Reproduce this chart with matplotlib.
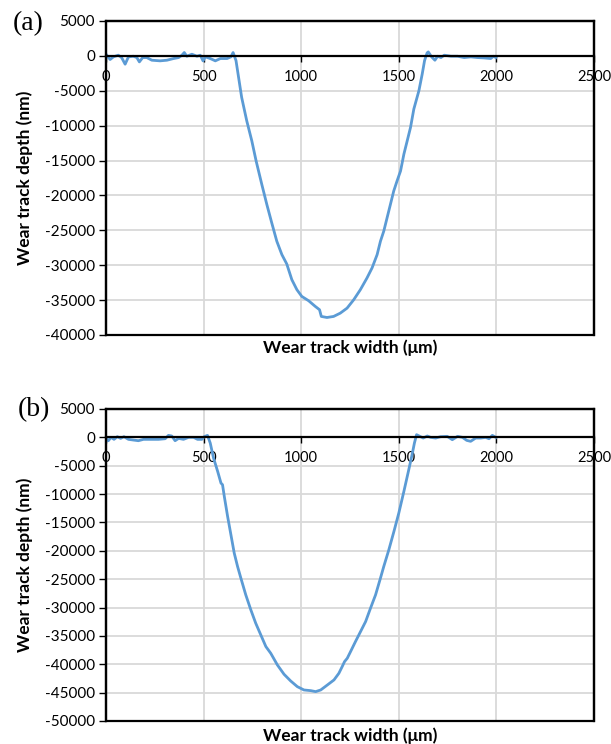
import numpy as np
import matplotlib
matplotlib.use("Agg")
import matplotlib.pyplot as plt
from matplotlib.patches import Rectangle

plt.rcParams['font.family'] = ['Lato', 'DejaVu Sans']

# panel (a) profile
x_a = [0, 21, 38, 63, 80, 98, 115, 140, 158, 171, 188, 209, 235, 277, 312, 346,
       372, 389, 401, 414, 440, 466, 483, 497, 509, 534, 560, 586, 620, 640, 651,
       666, 695, 721, 747, 769, 798, 824, 849, 875, 901, 926, 952, 978, 1003,
       1038, 1072, 1094, 1103, 1132, 1166, 1200, 1235, 1269, 1303, 1337, 1363,
       1389, 1406, 1423, 1440, 1457, 1474, 1491, 1509, 1526, 1543, 1560, 1577,
       1603, 1620, 1632, 1645, 1651, 1668, 1685, 1699, 1716, 1733, 1767, 1801,
       1835, 1869, 1903, 1937, 1971, 1985, 1997]
y_a = [240, -520, -140, 100, -240, -1190, -140, -50, -240, -860, -240, -240,
       -620, -710, -620, -380, -240, 100, 480, -50, 240, -50, 100, -710, -140,
       -380, -710, -380, -380, -140, 480,
       -670, -5950, -9300, -12180, -15050, -18400, -21300, -23920, -26560,
       -28480, -29820, -32070, -33510, -34470, -35090, -35900, -36380, -37340,
       -37490, -37340, -36870, -36150, -34950, -33510, -31830, -30390, -28480,
       -26560, -25120, -23200, -21290, -19370, -17930, -16490, -14090, -12180,
       -10260, -7620, -4990, -2590, -670, 430, 570, -140, -620, -50, -240, 100,
       -50, -50, -240, -140, -240, -290, -380, -50, -240]

# panel (b) profile
x_b = [0, 12, 26, 41, 58, 75, 92, 115, 140, 166, 192, 226, 269, 303, 320, 337,
       354, 372, 397, 423, 449, 469, 491, 503, 520,
       534, 551, 572, 589, 597, 606, 623, 640, 657, 674, 691, 716, 742, 767,
       793, 819, 844, 878, 912, 946, 980, 1014, 1049, 1074, 1100, 1134, 1168,
       1193, 1210, 1222, 1236, 1253, 1278, 1304, 1330, 1355, 1381, 1406, 1423,
       1449, 1475, 1500, 1526, 1551, 1568, 1580, 1591, 1608, 1625, 1646, 1663,
       1689, 1714, 1748, 1774, 1801, 1826, 1848, 1868, 1894, 1920, 1945, 1962,
       1979, 1997]
y_b = [-180, -590, 0, -350, 120, -180, 120, -350, -470, -590, -350, -350, -350,
       -240, 350, 240, -590, -180, -350, 0, 0, -350, -350, 120, 350,
       -1000, -3650, -6000, -8060, -8350, -10400, -13940, -17180, -20410,
       -22760, -24820, -27760, -30410, -32760, -34820, -36880, -38060, -40120,
       -41760, -42940, -43940, -44530, -44650, -44820, -44530, -43650, -42760,
       -41590, -40410, -39530, -38940, -37760, -36000, -34240, -32470, -30120,
       -27760, -24820, -22760, -19820, -16590, -13350, -9530, -5710, -3060,
       -1000, 470, 180, -120, 240, 0, -120, 120, 180, -410, 180, 0, -530, -700,
       -120, -120, 0, -240, 350, 0]

x_ticks = [0, 500, 1000, 1500, 2000, 2500]
y_ticks_a = list(range(-40000, 5001, 5000))
y_ticks_b = list(range(-50000, 5001, 5000))

W, H = 611, 744
fig = plt.figure(figsize=(W / 100, H / 100), dpi=100)


def make_panel(rect, xs, ys, yticks, tag, tag_xy, xlabel_y):
    ax = fig.add_axes(rect)
    ax.plot(xs, ys, color='#5B9BD5', lw=2, zorder=3)
    ax.set_xlim(0, 2500)
    ax.set_ylim(yticks[0], yticks[-1])
    ax.set_xticks(x_ticks)
    ax.set_yticks(yticks)
    ax.set_yticklabels([str(v) for v in yticks])
    ax.grid(True, color='#D9D9D9', lw=1.3, zorder=0)
    ax.set_axisbelow(True)

    # x axis crosses at zero like in Excel
    ax.spines['bottom'].set_position(('data', 0))
    ax.spines['bottom'].set_linewidth(1.6)
    ax.spines['bottom'].set_zorder(4)
    for s in ['top', 'right', 'left']:
        ax.spines[s].set_linewidth(1.6)
        ax.spines[s].set_zorder(4)
    ax.add_patch(Rectangle((0, 0), 1, 1, transform=ax.transAxes, fill=False,
                           ec='black', lw=1.6, zorder=4, clip_on=False))
    ax.tick_params(axis='x', direction='out', length=4, width=1, pad=6,
                   labelsize=10.5, colors='black')
    ax.tick_params(axis='y', direction='out', length=5, width=1, pad=3,
                   labelsize=11)

    fig.text(tag_xy[0] / W, 1 - tag_xy[1] / H, tag, family='Liberation Serif',
             fontsize=20, ha='center', va='center')
    fig.text(350 / W, 1 - xlabel_y / H, 'Wear track width (μm)',
             fontweight='bold', fontsize=12.5, ha='center', va='center')
    yc = (rect[1] + rect[3] / 2)
    fig.text(25 / W, yc, 'Wear track depth (nm)', rotation=90,
             fontweight='bold', fontsize=12.5, ha='center', va='center')
    return ax


left = 106 / W
width = (594 - 106) / W
ax_a = make_panel([left, 1 - 335 / H, width, (335 - 21) / H], x_a, y_a,
                  y_ticks_a, '(a)', (28, 24), 348)
ax_b = make_panel([left, 1 - 721 / H, width, (721 - 409) / H], x_b, y_b,
                  y_ticks_b, '(b)', (34, 410), 736)

fig.savefig('out.png', dpi=100)
